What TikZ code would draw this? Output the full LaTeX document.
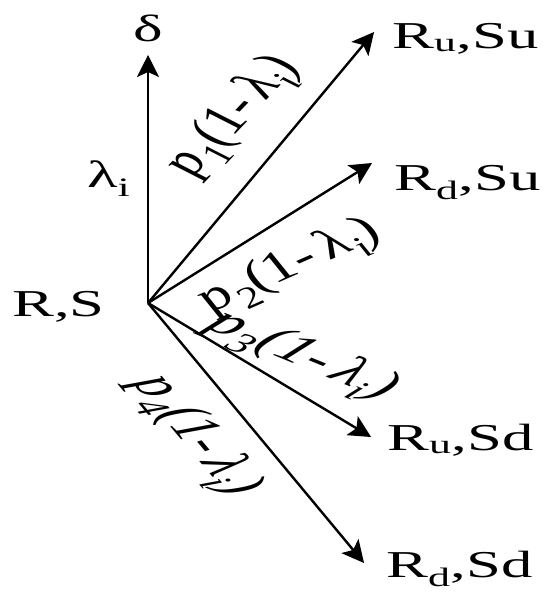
\documentclass[tikz,border=0pt]{standalone}
\usepackage{fontspec}
\setmainfont{Liberation Serif}
\usetikzlibrary{arrows.meta}
\def\myS{1.65}
\begin{document}
\begin{tikzpicture}[x=1pt,y=-1pt,xscale=\myS,
  lbl/.style={font=\fontsize{38}{40}\selectfont, inner sep=0pt, transform shape},
  plbl/.style={font=\fontsize{41}{43}\selectfont\itshape, inner sep=0pt, transform shape},
  edge/.style={line width=2.4pt, -{Stealth[length=22pt,width=22pt,inset=5pt]}}]
\useasboundingbox (0,0) rectangle ({558/\myS},597);
% origin and arrow tips
\coordinate (O) at ({148/\myS},303);
\coordinate (tD) at ({148/\myS},55);
\coordinate (t1) at ({374/\myS},32);
\coordinate (t2) at ({372/\myS},163);
\coordinate (t3) at ({371/\myS},437);
\coordinate (t4) at ({364/\myS},563);
% labels
\node[lbl, anchor=base west] (rs) at ({12/\myS},316) {R,S};
\node[lbl] (delta) at ({148/\myS},28) {δ};
\node[lbl, anchor=base west] (lam) at ({87/\myS},187) {λ\textsubscript{i}};
\node[lbl, anchor=base west] (rusu) at ({392/\myS},48) {R\textsubscript{u},Su};
\node[lbl, anchor=base west] (rdsu) at ({394/\myS},190) {R\textsubscript{d},Su};
\node[lbl, anchor=base west] (rusd) at ({387/\myS},450) {R\textsubscript{u},Sd};
\node[lbl, anchor=base west] (rdsd) at ({386/\myS},577) {R\textsubscript{d},Sd};
% arrows
\draw[edge] (O) -- (tD);
\draw[edge] (O) -- (t1);
\draw[edge] (O) -- (t2);
\draw[edge] (O) -- (t3);
\draw[edge] (O) -- (t4);
% branch labels
\node[plbl, rotate=60] (p1) at ({234/\myS},117) {p\textsubscript{1}(1-\,λ\textsubscript{i})};
\node[plbl, rotate=36] (p2) at ({290/\myS},267) {p\textsubscript{2}(1-\,λ\textsubscript{i})};
\node[plbl, rotate=-34] (p3) at ({302/\myS},356) {p\textsubscript{3}(1-\,λ\textsubscript{i})};
\node[plbl, rotate=-63] (p4) at ({195/\myS},436) {p\textsubscript{4}(1-\,λ\textsubscript{i})};
\end{tikzpicture}
\end{document}
